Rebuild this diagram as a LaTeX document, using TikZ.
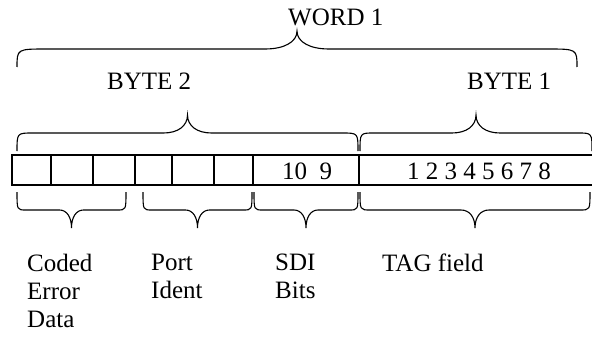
\documentclass[tikz,border=0pt]{standalone}
\usepackage{fontspec}
\setmainfont{Liberation Serif}

% #1 left x, #2 right x, #3 y of the ends, #4 direction (-1 up, 1 down),
% #5 corner, #6 half width of the tip
\newcommand{\fieldbrace}[6]{%
  \pgfmathsetmacro{\brcmid}{(#1+#2)/2}%
  \pgfmathsetmacro{\brcflat}{#3+#4*18}%
  \pgfmathsetmacro{\brctip}{#3+#4*36}%
  \draw[brace line] (#1,#3) .. controls (#1,\brcflat) .. ({#1+#5},\brcflat)
    -- ({\brcmid-#6},\brcflat)
    .. controls ({\brcmid-0.4*#6},\brcflat) and (\brcmid,{\brcflat+#4*7}) .. (\brcmid,\brctip)
    .. controls (\brcmid,{\brcflat+#4*7}) and ({\brcmid+0.4*#6},\brcflat) .. ({\brcmid+#6},\brcflat)
    -- ({#2-#5},\brcflat) .. controls (#2,\brcflat) .. (#2,#3);}

\begin{document}
\begin{tikzpicture}[x=1pt, y=-1pt,
  brace line/.style = {line width=1.1pt},
  cell line/.style = {line width=1.8pt},
  field label/.style = {anchor=north west, align=left},
  every node/.style = {inner sep=0pt, anchor=base west,
    font=\fontsize{25}{28}\selectfont}]
  \useasboundingbox (0,0) rectangle (592,337);

  % braces above
  \fieldbrace{17}{577}{67}{-1}{30}{32}
  \fieldbrace{17}{358}{151}{-1}{16}{24}
  \fieldbrace{360}{592}{151}{-1}{14}{24}
  \node (word) at (288,26) {WORD 1};
  \node (byteb) at (107,89) {BYTE 2};
  \node (bytea) at (467,89) {BYTE 1};

  % the word
  \draw[cell line] (12,155) rectangle (596,185);
  \foreach \x in {51,93,135,172,214,253,359}
    \draw[cell line] (\x,155) -- (\x,185);
  \node (bits) at (282,179) {10~~9};
  \node (tag) at (407,179) {1 2 3 4 5 6 7 8};

  % braces below
  \fieldbrace{17}{126}{192}{1}{9}{12}
  \fieldbrace{143}{252}{192}{1}{9}{12}
  \fieldbrace{254}{358}{192}{1}{9}{12}
  \fieldbrace{360}{590}{192}{1}{10}{14}
  \node[field label] (coded) at (27,254) {Coded\\Error\\Data};
  \node[field label] (port) at (151,254) {Port\\Ident};
  \node[field label] (sdi) at (275,254) {SDI\\Bits};
  \node[field label] (tagf) at (382,254) {TAG field};
 \end{tikzpicture}
\end{document}
